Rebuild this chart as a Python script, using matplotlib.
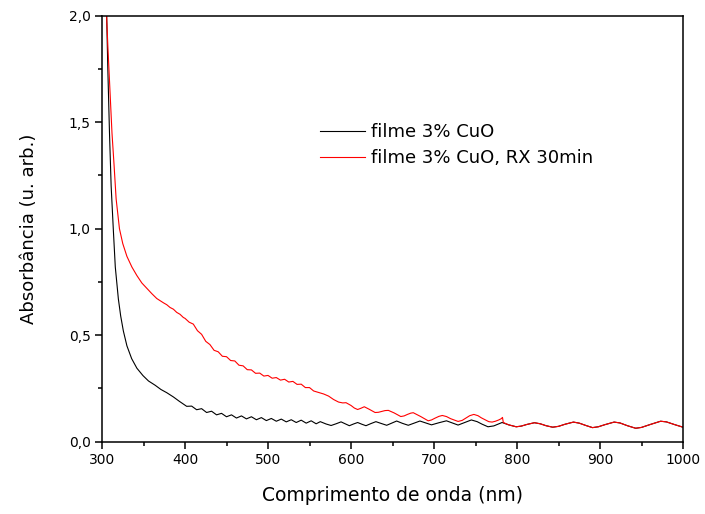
import matplotlib
matplotlib.use("Agg")
import matplotlib.pyplot as plt
from matplotlib.ticker import MultipleLocator, FuncFormatter

# --- data (wavelength in nm, absorbance in arb. units) ---
wl_black = [303, 305.6, 307, 309, 311, 313.7, 316, 319.7, 322.5, 325.7, 330, 335.7,
            342, 349.4, 356, 364, 371, 378, 386, 393,
            396, 402, 408, 414, 420, 426, 432, 438, 444, 450, 456, 462, 468, 474,
            480, 486, 492, 498, 504, 510, 516, 522, 528, 534, 540, 546, 552, 558,
            563, 570, 576, 582, 588, 593, 598, 603, 608, 613, 618, 624, 630, 636,
            643, 649, 655, 662, 669, 676, 683, 690, 697, 706, 715, 722, 729, 737,
            745, 752, 758, 765, 772, 777, 782]
abs_black = [2.40, 2.00, 1.75, 1.45, 1.20, 0.99, 0.82, 0.67, 0.59, 0.52, 0.45, 0.39,
             0.345, 0.31, 0.285, 0.265, 0.245, 0.23, 0.21, 0.19,
             0.182, 0.166, 0.167, 0.150, 0.155, 0.137, 0.143, 0.126, 0.133, 0.117,
             0.126, 0.111, 0.121, 0.107, 0.117, 0.103, 0.113, 0.099, 0.109, 0.096,
             0.106, 0.093, 0.103, 0.090, 0.101, 0.087, 0.098, 0.084,
             0.094, 0.083, 0.076, 0.084, 0.093, 0.084, 0.075, 0.083, 0.090, 0.082,
             0.075, 0.085, 0.094, 0.086, 0.077, 0.087, 0.097, 0.086, 0.077, 0.087,
             0.097, 0.088, 0.079, 0.089, 0.098, 0.088, 0.078, 0.090, 0.102, 0.094,
             0.082, 0.070, 0.074, 0.082, 0.090]

wl_red = [303, 305.5, 307, 309, 312, 314.5, 317, 321, 325, 330, 336, 342, 348, 354,
          360, 366, 370, 374, 378, 382, 386, 390, 394, 398,
          400, 405, 410, 415, 420, 425, 430, 435, 440, 445, 450, 455, 460, 465, 470,
          475, 480, 485, 490, 495, 500, 505, 510, 515, 520, 525, 530, 535, 540, 545,
          550, 555, 560,
          567, 573, 579, 585, 590, 594, 600, 604, 608, 612, 616, 622, 629, 633, 637,
          641, 645, 652, 660, 664, 668, 672, 675, 684, 693, 697, 701, 706, 710, 715,
          720, 729, 734, 738, 743, 748, 753, 757, 766, 770, 774, 778, 781, 782.5, 783.5]
abs_red = [2.40, 2.00, 1.86, 1.70, 1.45, 1.30, 1.14, 1.00, 0.93, 0.87, 0.82, 0.78,
           0.745, 0.72, 0.695, 0.672, 0.662, 0.652, 0.643, 0.630, 0.622, 0.607, 0.598,
           0.583,
           0.579, 0.561, 0.552, 0.521, 0.504, 0.471, 0.456, 0.429, 0.422, 0.401, 0.399,
           0.381, 0.379, 0.359, 0.356, 0.338, 0.337, 0.321, 0.322, 0.308, 0.311, 0.298,
           0.301, 0.289, 0.293, 0.280, 0.283, 0.269, 0.270, 0.254, 0.254, 0.238, 0.232,
           0.224, 0.214, 0.198, 0.186, 0.182, 0.183, 0.170, 0.158, 0.151, 0.157, 0.164,
           0.152, 0.137, 0.138, 0.142, 0.146, 0.147, 0.135, 0.118, 0.121, 0.128, 0.134,
           0.136, 0.118, 0.098, 0.102, 0.110, 0.119, 0.123, 0.118, 0.108, 0.095, 0.100,
           0.110, 0.122, 0.128, 0.122, 0.112, 0.094, 0.092, 0.096, 0.102, 0.108, 0.114,
           0.090]

# both films coincide above ~785 nm
wl_tail = [790, 799, 805, 812, 821, 828, 835, 843, 850, 858, 868, 875, 883, 891, 898,
           906, 917, 924, 933, 943, 950, 960, 973, 980, 990, 1000]
abs_tail = [0.079, 0.070, 0.073, 0.081, 0.089, 0.084, 0.075, 0.068, 0.072, 0.082,
            0.092, 0.087, 0.076, 0.066, 0.070, 0.080, 0.092, 0.088, 0.075, 0.063,
            0.067, 0.080, 0.096, 0.093, 0.080, 0.068]

labels = ["filme 3% CuO", "filme 3% CuO, RX 30min"]

fig = plt.figure(figsize=(7.05, 5.14), dpi=100)
ax = fig.add_axes([0.1447, 0.1407, 0.8241, 0.8288])

ax.plot(wl_black + wl_tail, abs_black + abs_tail, color="black", lw=0.8, label=labels[0])
ax.plot(wl_red + wl_tail, abs_red + abs_tail, color="#ff0000", lw=0.8, label=labels[1])

ax.set_xlim(300, 1000)
ax.set_ylim(0, 2.0)
ax.xaxis.set_major_locator(MultipleLocator(100))
ax.xaxis.set_minor_locator(MultipleLocator(50))
ax.yaxis.set_major_locator(MultipleLocator(0.5))
ax.yaxis.set_minor_locator(MultipleLocator(0.25))
ax.yaxis.set_major_formatter(FuncFormatter(lambda v, p: f"{v:.1f}".replace(".", ",")))

ax.tick_params(which="both", direction="out", top=False, right=False, width=1.1,
               labelsize=10, pad=3)
ax.tick_params(which="major", length=5)
ax.tick_params(which="minor", length=3)
for sp in ax.spines.values():
    sp.set_linewidth(1.1)

ax.set_xlabel("Comprimento de onda (nm)", fontsize=13.5, labelpad=14)
ax.set_ylabel("Absorbância (u. arb.)", fontsize=13, labelpad=22)

ax.legend(loc="upper left", bbox_to_anchor=(0.375, 0.748), frameon=False,
          fontsize=13, handlelength=2.5, handletextpad=0.35, labelspacing=0.45,
          borderpad=0, borderaxespad=0)

fig.savefig("out.png", dpi=100, facecolor="white")
